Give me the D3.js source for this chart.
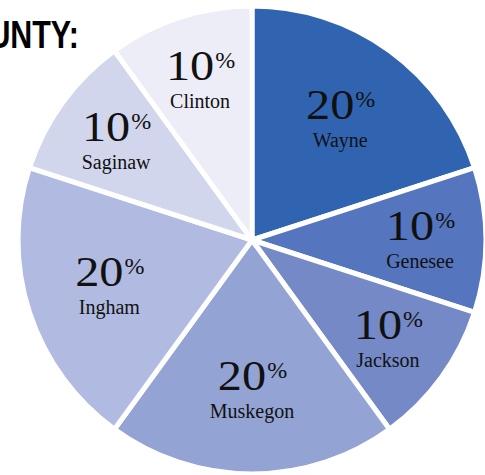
<!DOCTYPE html>
<html lang="en">
<head>
	<meta charset="utf-8">
	<script src="https://d3js.org/d3.v7.min.js"></script>
	<style type="text/css">
		body { margin: 0; background: #fff; overflow: hidden; }
		.title { font-family: "Liberation Sans Narrow", "Liberation Sans", sans-serif; font-weight: bold; }
		.pct { font-family: "Liberation Serif", serif; fill: #111; }
		.name { font-family: "Liberation Serif", serif; fill: #111; }
	</style>
</head>
<body>
	<script type="text/javascript">
	var width = 485;
	var height = 475;

	// county shares, clockwise from 12 o'clock
	var counties = ["Wayne", "Genesee", "Jackson", "Muskegon", "Ingham", "Saginaw", "Clinton"];
	var shares = [20, 10, 10, 20, 20, 10, 10];
	var colors = ["#3064b1", "#5575be", "#7489c6", "#93a3d4", "#b1bbe1", "#d1d6ed", "#ecedf7"];

	var data = counties.map(function(c, i) { return {name: c, value: shares[i], color: colors[i]}; });

	var cx = 252, cy = 240, radius = 234;

	var svg = d3.select("body")
				.append("svg")
				.attr("width", width)
				.attr("height", height);

	// heading, cropped at the left edge like the original
	svg.append("text")
		.attr("class", "title")
		.attr("transform", "translate(79,48) scale(0.8,1)")
		.attr("text-anchor", "end")
		.style("font-size", "38px")
		.text("COUNTY:");

	var pie = d3.pie()
				.sort(null)
				.value(function(d) { return d.value; });

	var arc = d3.arc()
				.innerRadius(0)
				.outerRadius(radius);

	var g = svg.append("g")
			   .attr("transform", "translate(" + cx + "," + cy + ")");

	var slices = g.selectAll("g.slice")
				  .data(pie(data))
				  .enter()
				  .append("g")
				  .attr("class", "slice");

	slices.append("path")
		  .attr("d", arc)
		  .style("fill", function(d) { return d.data.color; })
		  .style("stroke", "#fff")
		  .style("stroke-width", "5")
		  .style("stroke-linejoin", "miter");

	// labels sit a bit further out in the narrow slices
	var labelPos = function(d) {
		var r = (d.endAngle - d.startAngle) < 0.7 ? 168 : 150;
		return d3.arc().innerRadius(r).outerRadius(r).centroid(d);
	};

	var labels = slices.append("g")
		  .attr("transform", function(d) {
		  	var p = labelPos(d);
		  	return "translate(" + p[0] + "," + p[1] + ")";
		  });

	var numScale = 1.15;

	// big number, stretched a little, with a small raised percent sign
	labels.each(function(d) {
		var lg = d3.select(this);
		var num = lg.append("text")
			.attr("class", "pct")
			.style("font-size", "42px")
			.text(d.data.value);
		var sign = lg.append("text")
			.attr("class", "pct")
			.attr("y", -12)
			.style("font-size", "24px")
			.text("%");
		var nw = num.node().getComputedTextLength() * numScale;
		var sw = sign.node().getComputedTextLength();
		var x0 = -(nw + sw) / 2;
		num.attr("transform", "translate(" + x0 + ",0) scale(" + numScale + ",1)");
		sign.attr("x", x0 + nw + 1);
	});

	labels.append("text")
		  .attr("class", "name")
		  .attr("text-anchor", "middle")
		  .attr("y", 28)
		  .style("font-size", "20px")
		  .text(function(d) { return d.data.name; });
	</script>
</body>
</html>
